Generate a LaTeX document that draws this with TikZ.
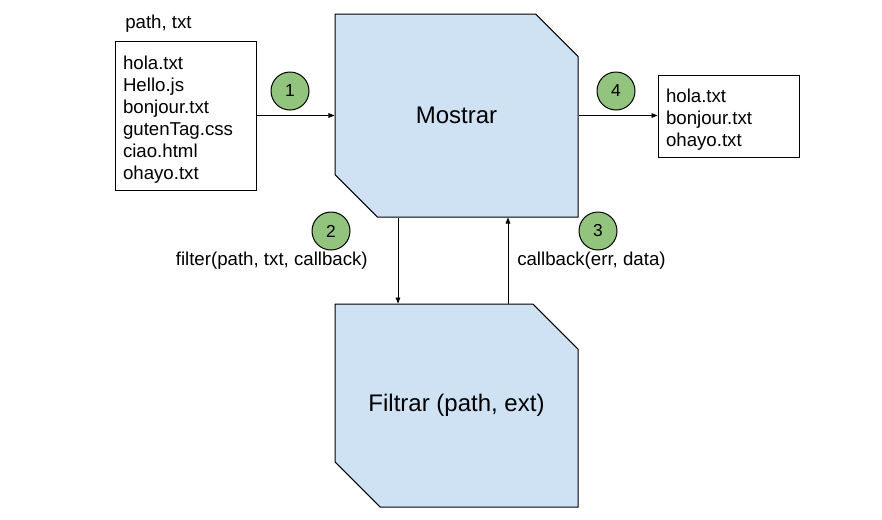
\documentclass[tikz,border=0pt]{standalone}
\usepackage{fontspec}
\setmainfont{Liberation Sans}
\usetikzlibrary{positioning,shapes.misc,arrows.meta,calc}
\definecolor{boxblue}{HTML}{CFE2F3}
\definecolor{stepgreen}{HTML}{93C47D}
\tikzset{
    module/.style={draw, fill=boxblue, line width=0.75pt,
        chamfered rectangle,
        chamfered rectangle corners={north east,south west},
        chamfered rectangle xsep=25.5pt, chamfered rectangle ysep=25.5pt,
        minimum width=182.25pt, minimum height=152.25pt, inner sep=0pt,
        font=\fontsize{18}{21}\selectfont},
    filelist/.style={draw, fill=white, line width=0.75pt, align=left,
        text width=93.75pt, inner xsep=6pt,
        execute at begin node={\rule{0pt}{16pt}},
        font=\fontsize{14}{16.5}\selectfont},
    stepnum/.style={circle, draw, fill=stepgreen, line width=0.75pt,
        minimum size=28.5pt, inner sep=0pt,
        font=\fontsize{13}{15}\selectfont},
    call/.style={inner sep=0pt, font=\fontsize{14}{16.5}\selectfont},
    flow/.style={line width=0.6pt, -{Triangle[length=4.5pt,width=3.5pt]}}
}
\begin{document}
\begin{tikzpicture}[x=0.75pt,y=-0.75pt]
                \useasboundingbox
                    (0,0) rectangle (882,519);
                % the two modules
                \node[module] (mostrar) at (456.5,115.5) {Mostrar};
                \node[module] (filtrar) at (456.5,405.5) {Filtrar (path, ext)};
                % file lists
                \node[filelist, minimum height=111.75pt] (input) at (185.5,115.5)
                    {hola.txt\\Hello.js\\bonjour.txt\\gutenTag.css\\ciao.html\\ohayo.txt};
                \node[call, anchor=west] (inlabel) at (125,24) {path, txt};
                \node[filelist, minimum height=61.5pt] (output) at (728.5,116)
                    {hola.txt\\bonjour.txt\\ohayo.txt};
                % steps
                \node[stepnum] (s1) at (290,91) {1};
                \node[stepnum] (s2) at (331,231) {2};
                \node[stepnum] (s3) at (598,231) {3};
                \node[stepnum] (s4) at (616,91) {4};
                \node[call, anchor=east] (filtercall) at (368,261) {filter(path, txt, callback)};
                \node[call, anchor=west] (backcall) at (517,261) {callback(err, data)};
                % flow
                \draw[flow]
                    (input) -- (mostrar);
                \draw[flow]
                    (mostrar.east) -- (output.west |- mostrar.east);
                \draw[flow]
                    ($(mostrar.south)+(-58.5,0)$) -- ($(filtrar.north)+(-58.5,0)$);
                \draw[flow]
                    ($(filtrar.north)+(51.5,0)$) -- ($(mostrar.south)+(51.5,0)$);
\end{tikzpicture}
\end{document}
